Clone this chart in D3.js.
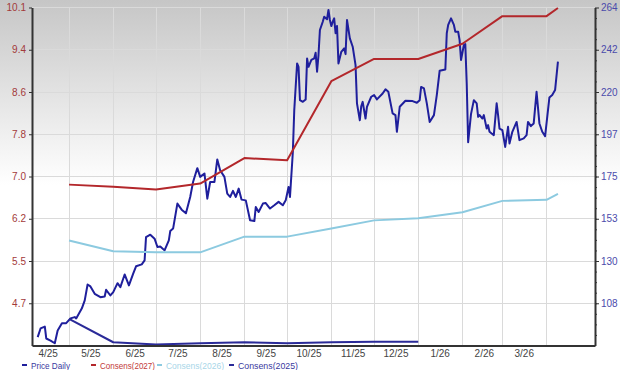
<!DOCTYPE html>
<html lang="en">
<head>
<meta charset="UTF-8">
<title>Price and Consensus</title>
<script src="https://d3js.org/d3.v7.min.js"></script>
<style>
  body { margin: 0; }
  svg { font-family: "Liberation Sans", Arial, sans-serif; display: block; }
  .grid line { stroke: #dadada; stroke-width: 1; shape-rendering: crispEdges; }
  .axis .domain { stroke: #333; stroke-width: 2; }
  .axis line { stroke: #333; }
  .axis text { font-size: 10px; }
  .legend text { font-size: 9px; }
</style>
</head>
<body>
<div id="chart"></div>
<script>
// price (right axis)
const priceDates = [
  "2025-04-09","2025-04-11","2025-04-14","2025-04-15","2025-04-18","2025-04-21","2025-04-23","2025-04-26","2025-04-29",
  "2025-05-02","2025-05-05","2025-05-06","2025-05-10","2025-05-12","2025-05-14","2025-05-16","2025-05-19","2025-05-23",
  "2025-05-26","2025-05-27","2025-05-30","2025-06-01","2025-06-04","2025-06-06","2025-06-09","2025-06-12","2025-06-15",
  "2025-06-17","2025-06-21","2025-06-23","2025-06-24","2025-06-27","2025-06-30","2025-07-02","2025-07-04","2025-07-07",
  "2025-07-10","2025-07-11","2025-07-13","2025-07-16","2025-07-19","2025-07-22","2025-07-25","2025-07-27","2025-07-30",
  "2025-08-01","2025-08-04","2025-08-06","2025-08-08","2025-08-11","2025-08-13","2025-08-15","2025-08-18","2025-08-20",
  "2025-08-22","2025-08-24","2025-08-26","2025-08-28","2025-08-30","2025-09-02","2025-09-05","2025-09-08","2025-09-09",
  "2025-09-11","2025-09-14","2025-09-16","2025-09-19","2025-09-22","2025-09-25","2025-09-28","2025-09-30","2025-10-02",
  "2025-10-03","2025-10-05","2025-10-06","2025-10-08","2025-10-09","2025-10-10","2025-10-12","2025-10-14","2025-10-15",
  "2025-10-16","2025-10-18","2025-10-20","2025-10-21","2025-10-22","2025-10-23","2025-10-24","2025-10-26","2025-10-27",
  "2025-10-29","2025-10-30","2025-10-31","2025-11-01","2025-11-02","2025-11-03","2025-11-04","2025-11-05","2025-11-06",
  "2025-11-08","2025-11-10","2025-11-11","2025-11-12","2025-11-14","2025-11-16","2025-11-18","2025-11-19","2025-11-21",
  "2025-11-22","2025-11-23","2025-11-25","2025-11-26","2025-11-29","2025-12-01","2025-12-03","2025-12-07","2025-12-09",
  "2025-12-11","2025-12-14","2025-12-16","2025-12-17","2025-12-19","2025-12-23","2025-12-28","2025-12-31","2026-01-02",
  "2026-01-03","2026-01-05","2026-01-07","2026-01-09","2026-01-12","2026-01-14","2026-01-16","2026-01-20","2026-01-21",
  "2026-01-22","2026-01-24","2026-01-26","2026-01-27","2026-01-29","2026-01-30","2026-01-31","2026-02-02","2026-02-03",
  "2026-02-04","2026-02-05","2026-02-07","2026-02-09","2026-02-11","2026-02-12","2026-02-13","2026-02-15","2026-02-16",
  "2026-02-18","2026-02-19","2026-02-20","2026-02-23","2026-02-25","2026-02-26","2026-02-27","2026-03-01","2026-03-03",
  "2026-03-05","2026-03-06","2026-03-08","2026-03-11","2026-03-13","2026-03-16","2026-03-18","2026-03-19","2026-03-21",
  "2026-03-23","2026-03-25","2026-03-27","2026-03-29","2026-03-31","2026-04-03","2026-04-05","2026-04-07","2026-04-09"
];
const priceValues = [
  90.2, 94.8, 95.8, 89.5, 88.4, 87.0, 93.7, 97.6, 97.6,
  100.1, 100.8, 100.1, 105.4, 109.6, 118.0, 117.0, 113.1, 111.3,
  111.7, 115.2, 112.2, 114.0, 118.7, 116.6, 123.3, 117.5, 123.7,
  127.6, 128.6, 130.7, 143.0, 144.3, 142.2, 137.8, 138.1, 136.0,
  141.3, 146.2, 147.5, 160.7, 157.5, 155.6, 164.2, 172.1, 179.4,
  174.8, 176.6, 163.3, 172.1, 172.1, 184.0, 178.3, 174.8, 166.0,
  164.2, 167.4, 164.2, 168.6, 162.8, 162.4, 151.9, 151.5, 158.9,
  156.3, 160.7, 161.0, 158.1, 159.8, 161.6, 159.8, 162.4, 169.5,
  164.2, 187.8, 210.0, 234.7, 232.9, 215.3, 214.4, 215.7, 237.3,
  232.9, 236.5, 237.3, 240.3, 230.3, 239.1, 252.3, 256.7, 259.3,
  258.0, 262.9, 257.6, 254.4, 256.7, 258.5, 250.6, 254.4, 234.7,
  240.8, 242.6, 239.6, 257.6, 247.9, 243.5, 233.8, 213.6, 204.7,
  212.1, 214.4, 205.6, 211.8, 217.1, 218.0, 215.7, 218.8, 221.0,
  219.7, 208.3, 207.4, 198.6, 211.8, 215.0, 214.8, 213.9, 215.3,
  222.3, 221.5, 213.6, 203.8, 207.4, 218.0, 230.8, 231.5, 250.6,
  255.0, 258.5, 255.0, 251.4, 251.4, 247.0, 236.5, 244.4, 244.9,
  224.1, 193.1, 207.9, 215.3, 213.6, 206.5, 207.4, 205.6, 207.4,
  200.3, 202.1, 198.6, 196.8, 213.6, 207.4, 200.3, 199.5, 190.6,
  201.2, 192.4, 198.6, 203.8, 194.2, 195.1, 196.8, 203.8, 201.6,
  203.0, 219.7, 203.0, 198.6, 196.3, 216.7, 218.0, 220.6, 235.6
];

// consensus EPS (left axis)
const consDates = ["2025-05-01","2025-06-01","2025-07-01","2025-08-01","2025-09-01","2025-10-01","2025-11-01",
                   "2025-12-01","2026-01-01","2026-02-01","2026-03-01","2026-04-01","2026-04-09"];
const cons2027 = [6.87, 6.83, 6.78, 6.89, 7.36, 7.32, 8.78, 9.19, 9.19, 9.47, 9.98, 9.98, 10.13];
const cons2026 = [5.84, 5.64, 5.62, 5.62, 5.91, 5.91, 6.06, 6.21, 6.25, 6.36, 6.57, 6.59, 6.70];
const cons2025Dates = ["2025-05-01","2025-06-01","2025-07-01","2025-08-01","2025-09-01","2025-10-01","2025-11-01",
                       "2025-12-01","2026-01-01"];
const cons2025 = [4.39, 3.96, 3.92, 3.94, 3.96, 3.94, 3.96, 3.97, 3.97];

const monthLabels = ["4/25","5/25","6/25","7/25","8/25","9/25","10/25","11/25","12/25","1/26","2/26","3/26"];
const leftTickLabels = ["4.7","5.5","6.2","7.0","7.8","8.6","9.4","10.1"];
const rightTickLabels = ["108","130","153","175","197","220","242","264"];
const legendNames = ["Price Daily","Consens(2027)","Consens(2026)","Consens(2025)"];

const W = 620, H = 370;
const margin = {top: 7.5, right: 25, bottom: 24.5, left: 32};
const width = W - margin.left - margin.right;
const height = H - margin.top - margin.bottom;
const parse = d3.timeParse("%Y-%m-%d");

const svg = d3.select("#chart").append("svg").attr("width", W).attr("height", H);

const grad = svg.append("defs").append("linearGradient")
    .attr("id", "bg").attr("x1", 0).attr("y1", 0).attr("x2", 0).attr("y2", 1);
grad.append("stop").attr("offset", "0%").attr("stop-color", "#c6c6c6");
grad.append("stop").attr("offset", "50%").attr("stop-color", "#ffffff");
svg.append("rect").attr("width", W).attr("height", H).attr("fill", "url(#bg)");

const g = svg.append("g").attr("transform", `translate(${margin.left},${margin.top})`);

const x = d3.scaleTime().domain([parse("2025-04-05"), parse("2026-05-05")]).range([0, width]);
const yL = d3.scaleLinear().domain([3.9, 10.14]).range([height, 0]);
const yR = d3.scaleLinear().domain([85.8, 264.2]).range([height, 0]);

const leftTicks = d3.range(1, 9).map(i => 3.9 + i * 0.78);
const rightTicks = d3.range(1, 9).map(i => 85.8 + i * 22.3);
const rightMinor = d3.range(1, 32).map(i => 85.8 + i * 22.3 / 4);
const monthStarts = d3.timeMonths(parse("2025-05-01"), parse("2026-04-02"));
const monthMids = d3.timeMonths(parse("2025-04-01"), parse("2026-03-02")).map(d => d3.timeDay.offset(d, 15));

// grid
const grid = g.append("g").attr("class", "grid");
grid.selectAll(".h").data(leftTicks).join("line")
    .attr("x1", 0).attr("x2", width).attr("y1", d => yL(d)).attr("y2", d => yL(d));
grid.selectAll(".v").data(monthStarts).join("line")
    .attr("x1", d => x(d)).attr("x2", d => x(d)).attr("y1", 0).attr("y2", height);

// price
const price = priceDates.map((d, i) => ({date: parse(d), v: priceValues[i]}));
g.append("path").datum(price)
    .attr("fill", "none").attr("stroke", "#1f1f9c").attr("stroke-width", 2)
    .attr("stroke-linejoin", "round")
    .attr("d", d3.line().x(d => x(d.date)).y(d => yR(d.v)));

// consensus lines
const lineL = d3.line().x(d => x(d.date)).y(d => yL(d.v));
const series = [
  {dates: consDates, vals: cons2027, color: "#b3272b"},
  {dates: consDates, vals: cons2026, color: "#8ccae0"},
  {dates: cons2025Dates, vals: cons2025, color: "#2a2a98"}
];
series.forEach(s => {
  g.append("path").datum(s.dates.map((d, i) => ({date: parse(d), v: s.vals[i]})))
      .attr("fill", "none").attr("stroke", s.color).attr("stroke-width", 2)
      .attr("stroke-linejoin", "round").attr("d", lineL);
});

// axes
const axL = g.append("g").attr("class", "axis")
    .call(d3.axisLeft(yL).tickValues(leftTicks).tickSize(3).tickSizeOuter(0).tickPadding(3)
      .tickFormat((d, i) => leftTickLabels[i]));
axL.selectAll("text").attr("fill", "#a33a3a");

const axR = g.append("g").attr("class", "axis").attr("transform", `translate(${width},0)`)
    .call(d3.axisRight(yR).tickValues(rightTicks).tickSize(4).tickSizeOuter(0).tickPadding(2)
      .tickFormat((d, i) => rightTickLabels[i]));
axR.selectAll("text").attr("fill", "#4b4bab");
g.append("g").attr("class", "axis").attr("transform", `translate(${width},0)`)
    .call(d3.axisRight(yR).tickValues(rightMinor).tickSize(2).tickFormat(""))
    .select(".domain").remove();

const axB = g.append("g").attr("class", "axis").attr("transform", `translate(0,${height})`)
    .call(d3.axisBottom(x).tickValues(monthMids).tickSize(0).tickPadding(4)
      .tickFormat((d, i) => monthLabels[i]));
axB.selectAll("text").attr("fill", "#444");

// legend
const legendColors = ["#1f1f9c", "#b3272b", "#8ccae0", "#2a2a98"];
const legendText = ["#3a3aa0", "#c23a3a", "#a8d6e8", "#3a3aa0"];
const legendX = [22, 91, 157, 229];
const legendW = [39, 55, 58, 60];
const leg = svg.append("g").attr("class", "legend");
legendNames.forEach((name, i) => {
  leg.append("line").attr("x1", legendX[i]).attr("x2", legendX[i] + 5)
      .attr("y1", 365).attr("y2", 365).attr("stroke", legendColors[i]).attr("stroke-width", 2);
  leg.append("text").attr("x", legendX[i] + 9).attr("y", 368.5)
      .attr("fill", legendText[i]).attr("textLength", legendW[i]).attr("lengthAdjust", "spacingAndGlyphs")
      .text(name);
});
</script>
</body>
</html>
